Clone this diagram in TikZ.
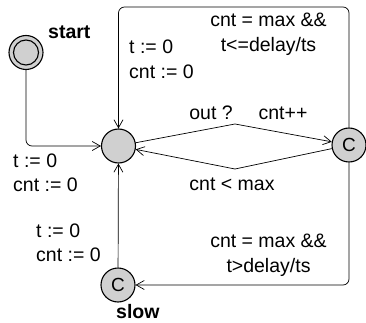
\documentclass[tikz,border=0pt]{standalone}
\usepackage{fontspec}
\setmainfont{Liberation Sans}
\usetikzlibrary{arrows.meta}
\definecolor{locfill}{RGB}{208,208,208}
\tikzset{
  loc/.style={circle, draw, line width=1.1pt, fill=locfill, minimum size=34pt, inner sep=0pt},
  ring/.style={circle, draw, line width=1.1pt, minimum size=25pt, inner sep=0pt},
  committed/.style={loc, font=\fontsize{19}{22}\selectfont},
  edge/.style={draw, line width=0.7pt, rounded corners=6pt, -{Straight Barb[length=8pt,width=9pt,line width=0.7pt]}},
  lbl/.style={inner sep=0pt, font=\fontsize{19.5}{24.5}\selectfont},
  locname/.style={inner sep=0pt, font=\fontsize{19.5}{22}\selectfont\bfseries}
}
\begin{document}
\begin{tikzpicture}[x=1pt, y=-1pt]
\useasboundingbox (0,0) rectangle (366,323);

% locations
\node[loc] (start) at (26,52.5) {};
\node[ring] (startring) at (start) {};
\node[loc] (main) at (118.5,146) {};
\node[committed] (C) at (349,145) {C};
\node[committed] (slow) at (118,285) {C};

% location names
\node[locname, anchor=west] (startname) at (48,32.5) {start};
\node[locname, anchor=west] (slowname) at (116,312) {slow};

% helper points for the edge paths
\coordinate (topy) at (0,7);
\coordinate (nailA) at (235,124);
\coordinate (nailB) at (235,169);

% edges
\draw[edge] (start) |- (main);
\draw[edge] (C) -- (C |- topy) -- (main |- topy) -- (main);
\draw[edge, rounded corners=0pt] (main) -- (nailA) -- (C);
\draw[edge, rounded corners=0pt] (C) -- (nailB) -- (main);
\draw[edge] (C) |- (slow);
\draw[edge] (slow) -- (main);

% edge labels
\node[lbl, align=center] (guardtop) at (268.5,34.5) {cnt = max \&\&\\t<=delay/ts};
\node[lbl, align=left, anchor=west] (updtop) at (129,59.5) {t := 0\\cnt := 0};
\node[lbl] (sync) at (211,113) {out ?};
\node[lbl] (inc) at (283,113) {cnt++};
\node[lbl] (guardlt) at (232,184) {cnt < max};
\node[lbl, align=center] (guardbot) at (268.5,255.5) {cnt = max \&\&\\t>delay/ts};
\node[lbl, align=left, anchor=west] (updstart) at (13,173) {t := 0\\cnt := 0};
\node[lbl, align=left, anchor=west] (updslow) at (36,243) {t := 0\\cnt := 0};
\end{tikzpicture}
\end{document}
